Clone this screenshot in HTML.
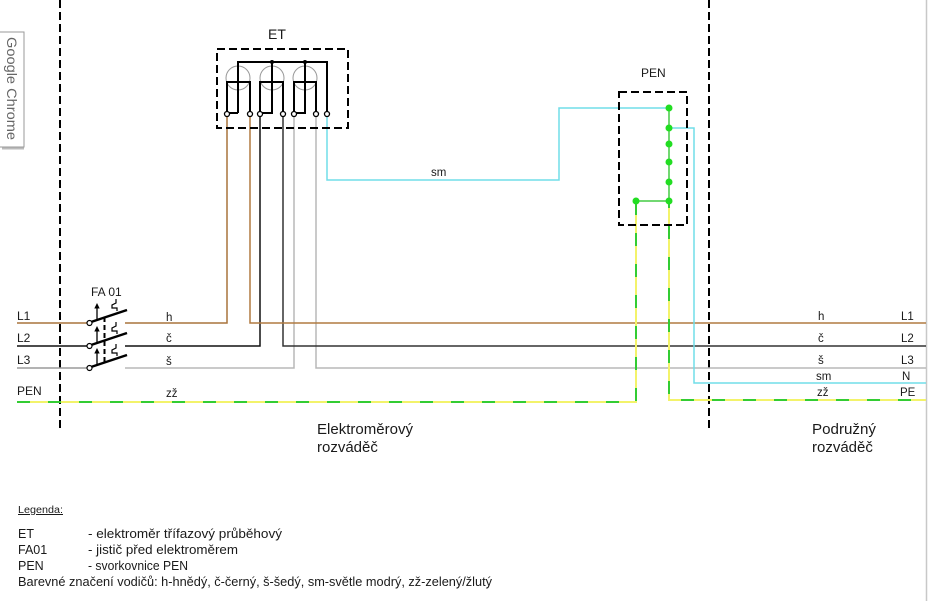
<!DOCTYPE html>
<html><head><meta charset="utf-8"><style>
html,body{margin:0;padding:0;background:#fff;}
svg{display:block;}
text{font-family:"Liberation Sans",Arial,sans-serif;fill:#1a1a1a;}
</style></head><body>
<svg width="945" height="601" viewBox="0 0 945 601" xmlns="http://www.w3.org/2000/svg">
<rect x="0" y="0" width="945" height="601" fill="#fff"/>
<!-- right gray border -->
<line x1="926.5" y1="0" x2="926.5" y2="601" stroke="#c8c8c8" stroke-width="1.5"/>

<!-- Google Chrome tab -->
<rect x="-1" y="32" width="25" height="115" fill="#fff" stroke="#9a9a9a" stroke-width="1"/>
<line x1="2" y1="148.5" x2="24" y2="148.5" stroke="#bbb" stroke-width="2"/>
<text transform="translate(7,37) rotate(90)" font-size="14" fill="#666" style="fill:#666" textLength="103" lengthAdjust="spacingAndGlyphs">Google Chrome</text>

<!-- vertical dashed separators -->
<line x1="60" y1="0" x2="60" y2="430" stroke="#000" stroke-width="2" stroke-dasharray="8 4"/>
<line x1="709" y1="0" x2="709" y2="430" stroke="#000" stroke-width="2" stroke-dasharray="8 4"/>

<!-- wires -->
<g fill="none" stroke-width="1.5">
  <path d="M17 323 H87" stroke="#a8743c"/>
  <path d="M125 323 H227 V116" stroke="#a8743c"/>
  <path d="M17 346 H87" stroke="#111"/>
  <path d="M125 346 H260 V116" stroke="#111"/>
  <path d="M17 368 H87" stroke="#9a9a9a"/>
  <path d="M125 368 H294 V116" stroke="#b8b8b8"/>
  <path d="M316 116 V368 H926" stroke="#b8b8b8"/>
  <path d="M283 116 V346 H926" stroke="#333"/>
  <path d="M250 116 V323 H926" stroke="#b07a40"/>
  <path d="M327 116 V180 H559 V108 H669" stroke="#70dde8"/>
  <path d="M669 128 H694 V383 H926" stroke="#70dde8"/>
</g>

<!-- PEN / PE yellow-green -->
<g fill="none">
  <path d="M17 402 H636 V201" stroke="#f3f36a" stroke-width="2"/>
  <path d="M17 402 H636 V201" stroke="#33cc33" stroke-width="2" stroke-dasharray="13 18"/>
  <path d="M669 201 V400 H926" stroke="#f3f36a" stroke-width="2"/>
  <path d="M669 201 V400 H926" stroke="#33cc33" stroke-width="2" stroke-dasharray="13 18" stroke-dashoffset="6"/>
</g>

<!-- PEN box -->
<rect x="619" y="92" width="68" height="133" fill="none" stroke="#000" stroke-width="2" stroke-dasharray="8 4"/>
<path d="M669 108 V201 H636" fill="none" stroke="#44cc44" stroke-width="1.5"/>
<g fill="#22dd22">
  <circle cx="669" cy="108" r="3.5"/>
  <circle cx="669" cy="128" r="3.5"/>
  <circle cx="669" cy="144" r="3.5"/>
  <circle cx="669" cy="162" r="3.5"/>
  <circle cx="669" cy="182" r="3.5"/>
  <circle cx="669" cy="201" r="3.5"/>
  <circle cx="636" cy="201" r="3.5"/>
</g>
<text x="641" y="77" font-size="12">PEN</text>

<!-- ET box -->
<rect x="217" y="49" width="131" height="79" fill="none" stroke="#000" stroke-width="2" stroke-dasharray="8 4"/>
<g fill="none" stroke="#999" stroke-width="1">
  <circle cx="238" cy="78" r="12"/>
  <circle cx="272" cy="78" r="12"/>
  <circle cx="305" cy="78" r="12"/>
</g>
<g fill="none" stroke="#000" stroke-width="2">
  <path d="M238 113 V62 H327 V114"/>
  <path d="M238 113 H227"/>
  <path d="M227 114 V82 H250 V114"/>
  <path d="M272 62 V113 H260"/>
  <path d="M260 114 V82 H283 V114"/>
  <path d="M305 62 V113 H294"/>
  <path d="M294 114 V82 H316 V114"/>
</g>
<circle cx="272" cy="62" r="2" fill="#000"/>
<circle cx="305" cy="62" r="2" fill="#000"/>
<g fill="#fff" stroke="#000" stroke-width="1.3">
  <circle cx="227" cy="114" r="2.5"/>
  <circle cx="250" cy="114" r="2.5"/>
  <circle cx="260" cy="114" r="2.5"/>
  <circle cx="283" cy="114" r="2.5"/>
  <circle cx="294" cy="114" r="2.5"/>
  <circle cx="316" cy="114" r="2.5"/>
  <circle cx="327" cy="114" r="2.5"/>
</g>
<text x="268" y="39" font-size="14">ET</text>

<!-- Breaker FA01 -->
<g>
  <g>
    <line x1="91" y1="322" x2="127" y2="310" stroke="#000" stroke-width="2.5"/>
    <circle cx="89.5" cy="323" r="2.5" fill="#fff" stroke="#000" stroke-width="1.2"/>
    <line x1="97" y1="319" x2="97" y2="306" stroke="#000" stroke-width="1.3"/>
    <polygon points="97,303 94.3,308.5 99.7,308.5" fill="#000"/>
    <path d="M116 299 V303 L112 305 V308 L117 308 V311" fill="none" stroke="#000" stroke-width="1.2"/>
  </g>
  <g transform="translate(0,23)">
    <line x1="91" y1="322" x2="127" y2="310" stroke="#000" stroke-width="2.5"/>
    <circle cx="89.5" cy="323" r="2.5" fill="#fff" stroke="#000" stroke-width="1.2"/>
    <line x1="97" y1="319" x2="97" y2="306" stroke="#000" stroke-width="1.3"/>
    <polygon points="97,303 94.3,308.5 99.7,308.5" fill="#000"/>
    <path d="M116 299 V303 L112 305 V308 L117 308 V311" fill="none" stroke="#000" stroke-width="1.2"/>
  </g>
  <g transform="translate(0,45)">
    <line x1="91" y1="322" x2="127" y2="310" stroke="#000" stroke-width="2.5"/>
    <circle cx="89.5" cy="323" r="2.5" fill="#fff" stroke="#000" stroke-width="1.2"/>
    <line x1="97" y1="319" x2="97" y2="306" stroke="#000" stroke-width="1.3"/>
    <polygon points="97,303 94.3,308.5 99.7,308.5" fill="#000"/>
    <path d="M116 299 V303 L112 305 V308 L117 308 V311" fill="none" stroke="#000" stroke-width="1.2"/>
  </g>
  <line x1="104.5" y1="317" x2="104.5" y2="365" stroke="#000" stroke-width="2" stroke-dasharray="5 3"/>
</g>
<text x="91" y="296" font-size="12">FA 01</text>

<!-- left labels -->
<g font-size="12">
  <text x="17" y="320">L1</text>
  <text x="17" y="342">L2</text>
  <text x="17" y="364">L3</text>
  <text x="17" y="395">PEN</text>
</g>
<!-- mid labels -->
<g font-size="11.5">
  <text x="166" y="321">h</text>
  <text x="166" y="342">č</text>
  <text x="166" y="365">š</text>
  <text x="166" y="397">zž</text>
  <text x="431" y="176">sm</text>
</g>
<!-- right labels -->
<g font-size="11.5">
  <text x="818" y="320">h</text>
  <text x="818" y="342">č</text>
  <text x="818" y="364">š</text>
  <text x="816" y="380">sm</text>
  <text x="817" y="396">zž</text>
  <text x="901" y="320">L1</text>
  <text x="901" y="342">L2</text>
  <text x="901" y="364">L3</text>
  <text x="902" y="380">N</text>
  <text x="900" y="396">PE</text>
</g>

<!-- section titles -->
<g font-size="15">
  <text x="317" y="434" textLength="96" lengthAdjust="spacingAndGlyphs">Elektroměrový</text>
  <text x="317" y="452">rozváděč</text>
  <text x="812" y="434" textLength="64" lengthAdjust="spacingAndGlyphs">Podružný</text>
  <text x="812" y="452">rozváděč</text>
</g>

<!-- legend -->
<text x="18" y="513" font-size="10" textLength="45" lengthAdjust="spacingAndGlyphs" text-decoration="underline">Legenda:</text>
<g font-size="12.5">
  <text x="18" y="538">ET</text>
  <text x="88" y="538" textLength="194" lengthAdjust="spacingAndGlyphs">- elektroměr třífazový průběhový</text>
  <text x="18" y="554">FA01</text>
  <text x="88" y="554" textLength="150" lengthAdjust="spacingAndGlyphs">- jistič před elektroměrem</text>
  <text x="18" y="570">PEN</text>
  <text x="88" y="570" textLength="100" lengthAdjust="spacingAndGlyphs">- svorkovnice PEN</text>
  <text x="18" y="586" textLength="474" lengthAdjust="spacingAndGlyphs">Barevné značení vodičů: h-hnědý, č-černý, š-šedý, sm-světle modrý, zž-zelený/žlutý</text>
</g>
</svg>
</body></html>
